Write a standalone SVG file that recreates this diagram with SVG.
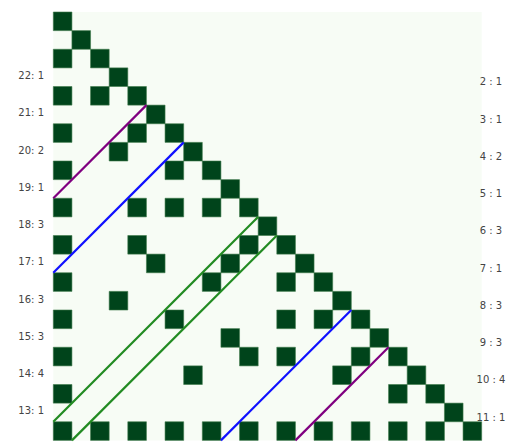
<svg xmlns="http://www.w3.org/2000/svg" width="515" height="442" viewBox="0 0 515 442">
<style>
.lbl{font-family:"DejaVu Sans",sans-serif;font-size:10px;fill:#444}
.l{text-anchor:end}
.r{text-anchor:middle}
.sq{fill:#00441b;stroke:#3f7a4c;stroke-width:0.6;vector-effect:non-scaling-stroke}
.ln{fill:none;stroke-width:2.2;vector-effect:non-scaling-stroke;stroke-linecap:butt}
</style>
<defs><rect id="c" width="1" height="1" class="sq"/></defs>
<rect x="53.3" y="12" width="428.4" height="428.5" fill="#f7fcf5"/>
<g id="matrix" transform="translate(53.3,12) scale(18.625)">
<use href="#c" x="0" y="0"/>
<use href="#c" x="1" y="1"/>
<use href="#c" x="0" y="2"/><use href="#c" x="2" y="2"/>
<use href="#c" x="3" y="3"/>
<use href="#c" x="0" y="4"/><use href="#c" x="2" y="4"/><use href="#c" x="4" y="4"/>
<use href="#c" x="5" y="5"/>
<use href="#c" x="0" y="6"/><use href="#c" x="4" y="6"/><use href="#c" x="6" y="6"/>
<use href="#c" x="3" y="7"/><use href="#c" x="7" y="7"/>
<use href="#c" x="0" y="8"/><use href="#c" x="6" y="8"/><use href="#c" x="8" y="8"/>
<use href="#c" x="9" y="9"/>
<use href="#c" x="0" y="10"/><use href="#c" x="4" y="10"/><use href="#c" x="6" y="10"/><use href="#c" x="8" y="10"/><use href="#c" x="10" y="10"/>
<use href="#c" x="11" y="11"/>
<use href="#c" x="0" y="12"/><use href="#c" x="4" y="12"/><use href="#c" x="10" y="12"/><use href="#c" x="12" y="12"/>
<use href="#c" x="5" y="13"/><use href="#c" x="9" y="13"/><use href="#c" x="13" y="13"/>
<use href="#c" x="0" y="14"/><use href="#c" x="8" y="14"/><use href="#c" x="12" y="14"/><use href="#c" x="14" y="14"/>
<use href="#c" x="3" y="15"/><use href="#c" x="15" y="15"/>
<use href="#c" x="0" y="16"/><use href="#c" x="6" y="16"/><use href="#c" x="12" y="16"/><use href="#c" x="14" y="16"/><use href="#c" x="16" y="16"/>
<use href="#c" x="9" y="17"/><use href="#c" x="17" y="17"/>
<use href="#c" x="0" y="18"/><use href="#c" x="10" y="18"/><use href="#c" x="12" y="18"/><use href="#c" x="16" y="18"/><use href="#c" x="18" y="18"/>
<use href="#c" x="7" y="19"/><use href="#c" x="15" y="19"/><use href="#c" x="19" y="19"/>
<use href="#c" x="0" y="20"/><use href="#c" x="18" y="20"/><use href="#c" x="20" y="20"/>
<use href="#c" x="21" y="21"/>
<use href="#c" x="0" y="22"/><use href="#c" x="2" y="22"/><use href="#c" x="4" y="22"/><use href="#c" x="6" y="22"/><use href="#c" x="8" y="22"/><use href="#c" x="10" y="22"/><use href="#c" x="12" y="22"/><use href="#c" x="14" y="22"/><use href="#c" x="16" y="22"/><use href="#c" x="18" y="22"/><use href="#c" x="20" y="22"/><use href="#c" x="22" y="22"/>
</g>
<g id="connectors" transform="translate(53.3,12) scale(18.625)">
<line class="ln" x1="0" y1="10" x2="5" y2="5" stroke="#800080"/>
<line class="ln" x1="0" y1="14" x2="7" y2="7" stroke="#1010ff"/>
<line class="ln" x1="0" y1="22" x2="11" y2="11" stroke="#228b22"/>
<line class="ln" x1="1" y1="23" x2="12" y2="12" stroke="#228b22"/>
<line class="ln" x1="9" y1="23" x2="16" y2="16" stroke="#1010ff"/>
<line class="ln" x1="13" y1="23" x2="18" y2="18" stroke="#800080"/>
</g>
<g id="left-labels" class="lbl l">
<text x="44" y="79.1">22: 1</text>
<text x="44" y="116.4">21: 1</text>
<text x="44" y="153.6">20: 2</text>
<text x="44" y="190.9">19: 1</text>
<text x="44" y="228.1">18: 3</text>
<text x="44" y="265.4">17: 1</text>
<text x="44" y="302.7">16: 3</text>
<text x="44" y="339.9">15: 3</text>
<text x="44" y="377.2">14: 4</text>
<text x="44" y="414.4">13: 1</text>
</g>
<g id="right-labels" class="lbl r">
<text x="491" y="85.3">2 : 1</text>
<text x="491" y="122.6">3 : 1</text>
<text x="491" y="159.8">4 : 2</text>
<text x="491" y="197.1">5 : 1</text>
<text x="491" y="234.3">6 : 3</text>
<text x="491" y="271.6">7 : 1</text>
<text x="491" y="308.9">8 : 3</text>
<text x="491" y="346.1">9 : 3</text>
<text x="491" y="383.4">10 : 4</text>
<text x="491" y="420.6">11 : 1</text>
</g>
</svg>
